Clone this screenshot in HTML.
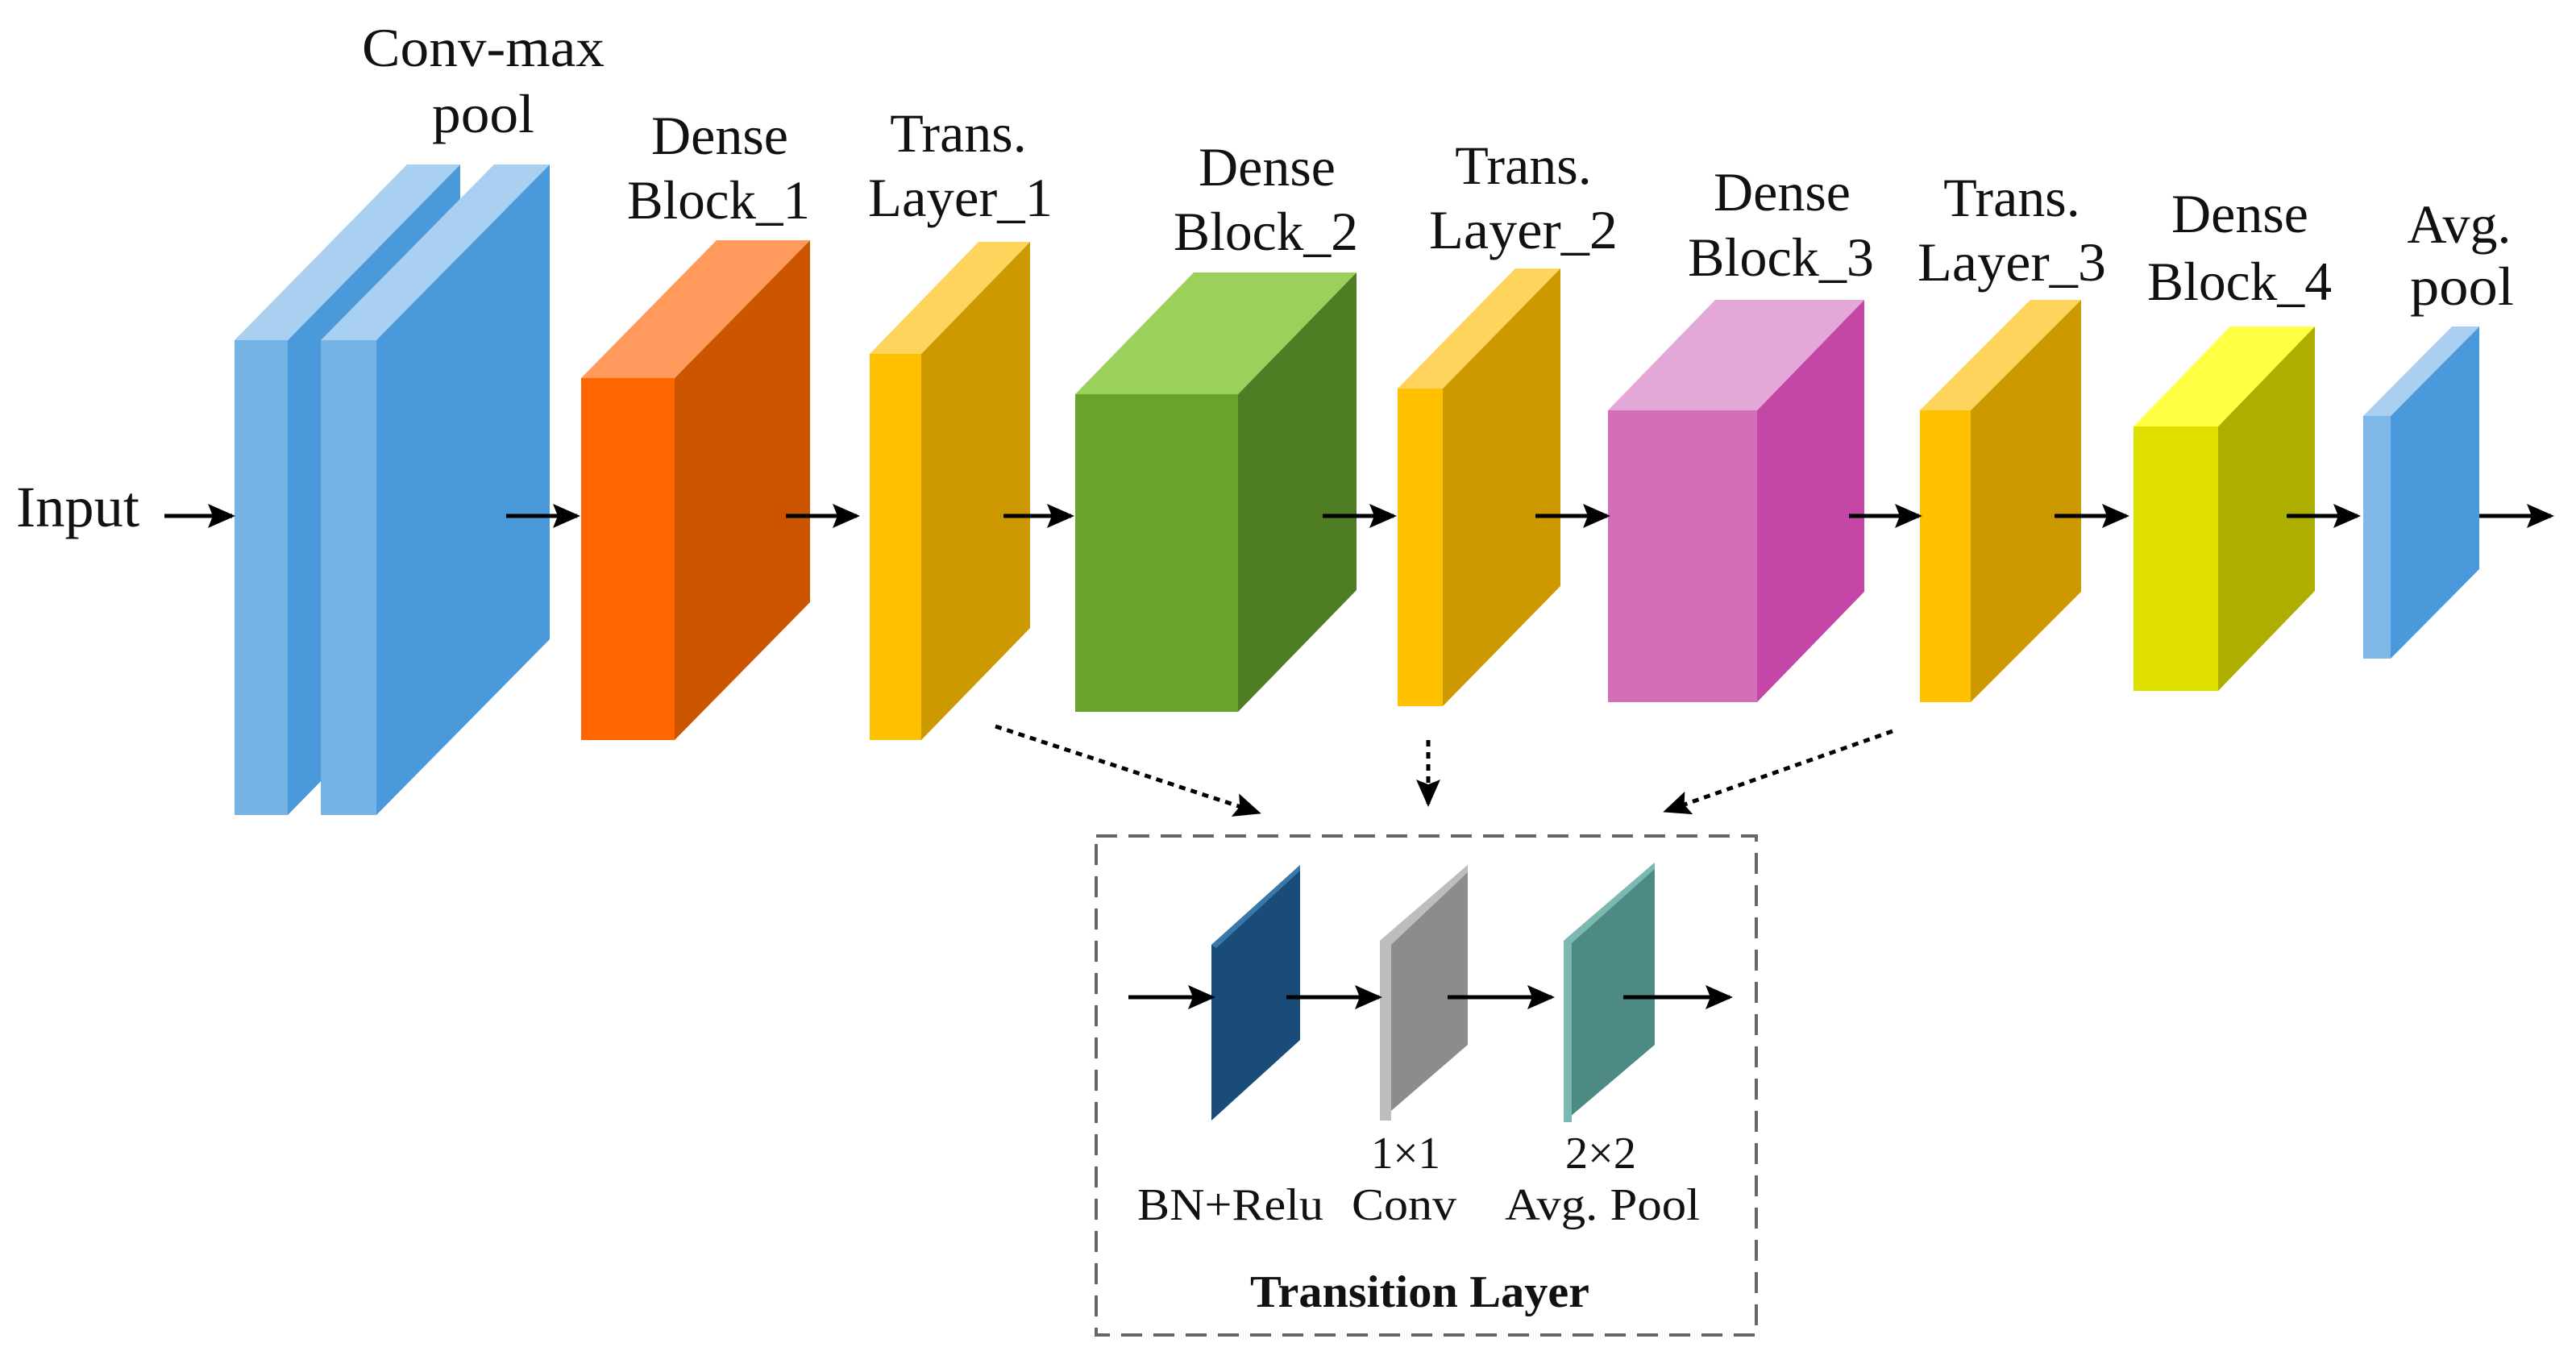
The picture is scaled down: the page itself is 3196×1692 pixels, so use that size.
<!DOCTYPE html>
<html><head><meta charset="utf-8"><style>html,body{margin:0;padding:0;background:#fff}svg{display:block}</style></head>
<body>
<svg width="3196" height="1692" viewBox="0 0 3196 1692" xmlns="http://www.w3.org/2000/svg" font-family="'Liberation Serif', 'Times New Roman', serif" fill="#111">
<defs>
<marker id="ah2" markerWidth="34" markerHeight="30" refX="30" refY="15" orient="auto" markerUnits="userSpaceOnUse"><path d="M0,0 L34,15 L0,30 L6,15 z" fill="#000"/></marker>
</defs>
<g id="blocks">
<polygon points="357,422 571,204 571,793 357,1011" fill="#4A9ADB"/>
<polygon points="291,422 505,204 571,204 357,422" fill="#A9D0F0"/>
<rect x="291" y="422" width="66" height="589" fill="#74B3E4"/>
<polygon points="467,422 682,204 682,793 467,1011" fill="#4A9ADB"/>
<polygon points="398,422 613,204 682,204 467,422" fill="#A9D0F0"/>
<rect x="398" y="422" width="69" height="589" fill="#74B3E4"/>
<polygon points="837,469 1005,298 1005,747 837,918" fill="#CC5500"/>
<polygon points="721,469 889,298 1005,298 837,469" fill="#FF9A5C"/>
<rect x="721" y="469" width="116" height="449" fill="#FF6600"/>
<polygon points="1143,439 1278,300 1278,779 1143,918" fill="#CC9900"/>
<polygon points="1079,439 1214,300 1278,300 1143,439" fill="#FFD45C"/>
<rect x="1079" y="439" width="64" height="479" fill="#FFC000"/>
<polygon points="1536,489 1683,338 1683,732 1536,883" fill="#4E7D24"/>
<polygon points="1334,489 1481,338 1683,338 1536,489" fill="#9BD05A"/>
<rect x="1334" y="489" width="202" height="394" fill="#6AA22E"/>
<polygon points="1790,482 1936,333 1936,727 1790,876" fill="#CC9900"/>
<polygon points="1734,482 1880,333 1936,333 1790,482" fill="#FFD45C"/>
<rect x="1734" y="482" width="56" height="394" fill="#FFC000"/>
<polygon points="2180,509 2313,372 2313,734 2180,871" fill="#C446A6"/>
<polygon points="1995,509 2128,372 2313,372 2180,509" fill="#E4A8D8"/>
<rect x="1995" y="509" width="185" height="362" fill="#D36FB8"/>
<polygon points="2445,509 2582,372 2582,734 2445,871" fill="#CC9900"/>
<polygon points="2382,509 2519,372 2582,372 2445,509" fill="#FFD45C"/>
<rect x="2382" y="509" width="63" height="362" fill="#FFC000"/>
<polygon points="2752,529 2872,405 2872,733 2752,857" fill="#AEAE00"/>
<polygon points="2647,529 2767,405 2872,405 2752,529" fill="#FFFF44"/>
<rect x="2647" y="529" width="105" height="328" fill="#E0E000"/>
<polygon points="2966,516 3076,405 3076,706 2966,817" fill="#4A9ADB"/>
<polygon points="2932,516 3042,405 3076,405 2966,516" fill="#A9D0F0"/>
<rect x="2932" y="516" width="34" height="301" fill="#7DB8E8"/>
</g>
<g stroke="#000" stroke-width="5" marker-end="url(#ah2)">
<line x1="204" y1="640" x2="288" y2="640"/>
<line x1="628" y1="640" x2="716" y2="640"/>
<line x1="975" y1="640" x2="1063" y2="640"/>
<line x1="1245" y1="640" x2="1329" y2="640"/>
<line x1="1641" y1="640" x2="1729" y2="640"/>
<line x1="1905" y1="640" x2="1994" y2="640"/>
<line x1="2294" y1="640" x2="2381" y2="640"/>
<line x1="2549" y1="640" x2="2638" y2="640"/>
<line x1="2837" y1="640" x2="2925" y2="640"/>
<line x1="3076" y1="640" x2="3165" y2="640"/>
</g>
<g stroke="#000" stroke-width="5" stroke-dasharray="8,7" fill="none" marker-end="url(#ah2)">
<line x1="1235" y1="901" x2="1561" y2="1008"/>
<line x1="1772" y1="918" x2="1772" y2="997"/>
<line x1="2348" y1="907" x2="2067" y2="1006"/>
</g>
<rect x="1360" y="1037" width="819" height="619" fill="none" stroke="#666" stroke-width="4" stroke-dasharray="26,14"/>
<polygon points="1503,1172 1613,1073 1613,1290 1503,1390" fill="#1A4C7A"/>
<polygon points="1503,1172 1613,1073 1613,1080 1509,1176" fill="#3A78AA"/>
<polygon points="1712,1167 1821,1073 1821,1296 1712,1390" fill="#8C8C8C"/>
<polygon points="1712,1167 1821,1073 1821,1082 1726,1172 1726,1390 1712,1390" fill="#BDBDBD"/>
<polygon points="1940,1167 2053,1070 2053,1296 1940,1392" fill="#4E8A84"/>
<polygon points="1940,1167 2053,1070 2053,1078 1950,1170 1950,1392 1940,1392" fill="#7BB8B0"/>
<g stroke="#000" stroke-width="5" marker-end="url(#ah2)">
<line x1="1400" y1="1237" x2="1504" y2="1237"/>
<line x1="1596" y1="1237" x2="1711" y2="1237"/>
<line x1="1796" y1="1237" x2="1925" y2="1237"/>
<line x1="2014" y1="1237" x2="2146" y2="1237"/>
</g>
<g font-size="68">
<text x="20" y="653" textLength="153" lengthAdjust="spacingAndGlyphs" font-size="72">Input</text>
<text x="449" y="82" textLength="301" lengthAdjust="spacingAndGlyphs">Conv-max</text>
<text x="536" y="164" textLength="127" lengthAdjust="spacingAndGlyphs">pool</text>
<text x="893" y="191" text-anchor="middle">Dense</text>
<text x="778" y="271" textLength="227" lengthAdjust="spacingAndGlyphs">Block_1</text>
<text x="1189" y="188" text-anchor="middle">Trans.</text>
<text x="1077" y="268" textLength="229" lengthAdjust="spacingAndGlyphs">Layer_1</text>
<text x="1572" y="230" text-anchor="middle">Dense</text>
<text x="1456" y="310" textLength="229" lengthAdjust="spacingAndGlyphs">Block_2</text>
<text x="1890" y="228" text-anchor="middle">Trans.</text>
<text x="1773" y="308" textLength="234" lengthAdjust="spacingAndGlyphs">Layer_2</text>
<text x="2211" y="261" text-anchor="middle">Dense</text>
<text x="2094" y="342" textLength="231" lengthAdjust="spacingAndGlyphs">Block_3</text>
<text x="2496" y="268" text-anchor="middle">Trans.</text>
<text x="2379" y="348" textLength="234" lengthAdjust="spacingAndGlyphs">Layer_3</text>
<text x="2779" y="288" text-anchor="middle">Dense</text>
<text x="2664" y="372" textLength="229" lengthAdjust="spacingAndGlyphs">Block_4</text>
<text x="3051" y="301" text-anchor="middle">Avg.</text>
<text x="2990" y="378" textLength="129" lengthAdjust="spacingAndGlyphs">pool</text>
</g>
<g font-size="56">
<text x="1701" y="1449" textLength="86" lengthAdjust="spacingAndGlyphs">1×1</text>
<text x="1942" y="1449" textLength="88" lengthAdjust="spacingAndGlyphs">2×2</text>
<text x="1411" y="1513" textLength="231" lengthAdjust="spacingAndGlyphs">BN+Relu</text>
<text x="1677" y="1513" textLength="130" lengthAdjust="spacingAndGlyphs">Conv</text>
<text x="1867" y="1513" textLength="242" lengthAdjust="spacingAndGlyphs">Avg. Pool</text>
<text x="1551" y="1621" font-weight="bold" textLength="421" lengthAdjust="spacingAndGlyphs">Transition Layer</text>
</g>
</svg>
</body></html>
